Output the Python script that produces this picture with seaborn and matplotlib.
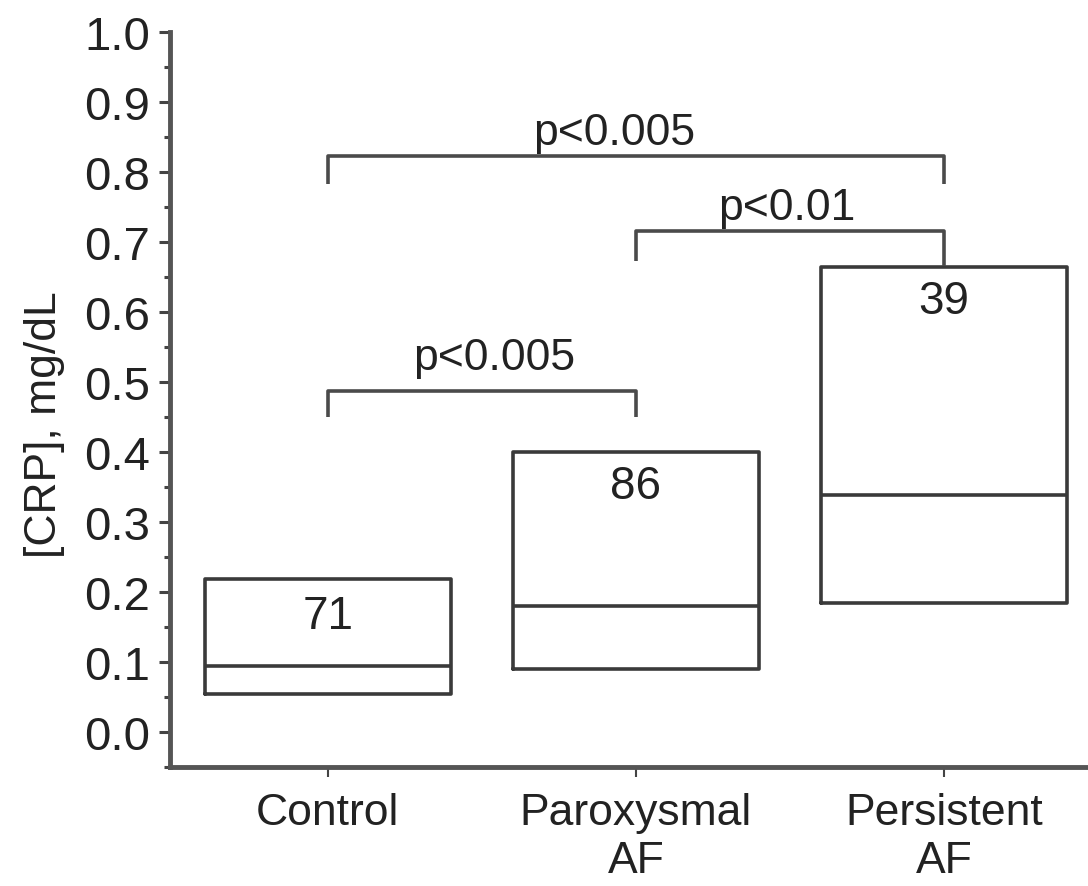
import pandas as pd
import seaborn as sns
import matplotlib.pyplot as plt

# box statistics (mg/dL)
groups = ['Control', 'Paroxysmal AF', 'Persistent AF']
tick_labels = ['Control', 'Paroxysmal\nAF', 'Persistent\nAF']
q1 = [0.055, 0.09, 0.185]
median = [0.094, 0.18, 0.338]
q3 = [0.218, 0.40, 0.664]
n_patients = ['71', '86', '39']
n_label_y = [0.166, 0.352, 0.616]

# significance brackets: (left group, right group)
bracket_pairs = [(0, 2), (1, 2), (0, 1)]
bracket_y = [0.823, 0.716, 0.487]
bracket_leg_ends = [(0.783, 0.783), (0.673, 0.665), (0.45, 0.45)]
p_labels = ['p<0.005', 'p<0.01', 'p<0.005']
p_label_x = [0.93, 1.49, 0.54]
p_label_y = [0.84, 0.733, 0.519]

line_col = '#3a3a3a'

sns.set_style('ticks')
plt.rcParams['font.family'] = ['Liberation Sans', 'DejaVu Sans']

# seaborn needs raw values; five points give exactly q1 / median / q3
rows = []
for g, a, m, b in zip(groups, q1, median, q3):
    for v in (a, a, m, b, b):
        rows.append({'group': g, 'value': v})
df = pd.DataFrame(rows)

fig = plt.figure(figsize=(10.88, 8.87), dpi=100)
ax = fig.add_axes([0.156, 0.134, 0.844, 0.829])

sns.boxplot(data=df, x='group', y='value', order=groups, ax=ax,
            fill=False, color=line_col, width=0.8, linewidth=2.6,
            whis=0, showcaps=False, showfliers=False,
            whiskerprops={'linewidth': 0})

for i, (lab, y) in enumerate(zip(n_patients, n_label_y)):
    ax.text(i, y, lab, ha='center', va='center', fontsize=33, color='#222222')

for (a, b), y, (la, lb), lab, tx, ty in zip(bracket_pairs, bracket_y, bracket_leg_ends,
                                            p_labels, p_label_x, p_label_y):
    ax.plot([a, a, b, b], [la, y, y, lb], color='#4a4a4a', lw=2.6, solid_capstyle='butt')
    ax.text(tx, ty, lab, ha='center', va='baseline', fontsize=32, color='#222222')

ax.set_ylim(-0.05, 1.0)
ax.set_xlim(-0.513, 2.468)
ax.set_yticks([i / 10 for i in range(11)])
ax.set_yticks([i / 10 + 0.05 for i in range(-1, 10)], minor=True)
ax.set_yticklabels([f'{i / 10:.1f}' for i in range(11)])
ax.set_xticks(range(len(groups)))
ax.set_xticklabels(tick_labels, linespacing=1.2)
ax.set_xlabel('')
ax.set_ylabel('[CRP], mg/dL', fontsize=32, color='#222222')
ax.yaxis.set_label_coords(-0.114, 0.467)

ax.spines['top'].set_visible(False)
ax.spines['right'].set_visible(False)
ax.spines['left'].set_bounds(-0.05, 1.0)
for s in ('left', 'bottom'):
    ax.spines[s].set_linewidth(3.5)
    ax.spines[s].set_color('#555555')

ax.tick_params(axis='y', which='major', length=8, width=2.2, color='#444444',
               labelsize=34, labelcolor='#222222', pad=6)
ax.tick_params(axis='y', which='minor', length=4.5, width=2.2, color='#444444')
ax.tick_params(axis='x', which='major', length=7, width=1.5, color='#444444',
               labelsize=32, labelcolor='#222222', pad=11)

fig.savefig('out.png', dpi=100)
